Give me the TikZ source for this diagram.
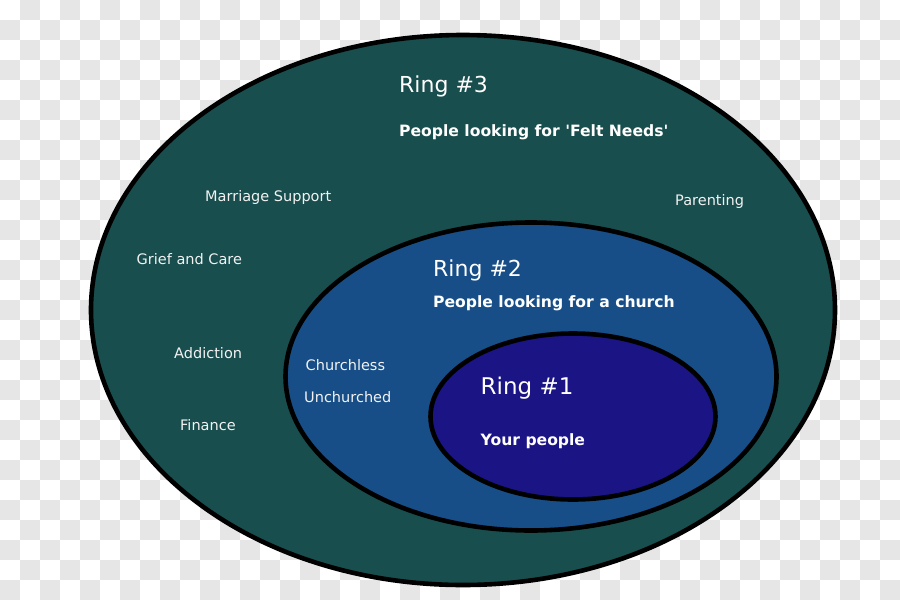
\documentclass[tikz,border=0pt]{standalone}
\usepackage{fontspec}
\setmainfont{DejaVu Sans}[Ligatures=TeXOff]
\begin{document}
\begin{tikzpicture}[x=1pt,y=-1pt,
  ring/.style={draw=black,line width=4.6pt},
  lbl/.style={inner sep=0pt,anchor=base west,text=white},
  big/.style={lbl,font=\fontsize{22}{26}\selectfont},
  sub/.style={lbl,font=\bfseries\fontsize{15.6}{19}\selectfont},
  small/.style={lbl,text=white!90!gray,font=\fontsize{14.5}{17}\selectfont}]
\definecolor{checkgray}{HTML}{E6E6E6}
\definecolor{outerfill}{HTML}{194E4E}
\definecolor{midfill}{HTML}{174E87}
\definecolor{innerfill}{HTML}{1A1485}
\useasboundingbox (0,0) rectangle (900,600);
\fill[white] (0,0) rectangle (900,600);
\foreach \yy in {0,40,...,560}{
  \foreach \xx in {20,60,...,860}{
    \fill[checkgray] (\xx,\yy) rectangle ++(20,20);
  }
}
\foreach \yy in {20,60,...,580}{
  \foreach \xx in {0,40,...,880}{
    \fill[checkgray] (\xx,\yy) rectangle ++(20,20);
  }
}
\draw[ring,fill=outerfill] (463,310) ellipse [x radius=372,y radius=275];
\draw[ring,fill=midfill] (531,376.5) ellipse [x radius=245.5,y radius=154];
\draw[ring,fill=innerfill] (573,416.5) ellipse [x radius=142.5,y radius=83];
\node[big] (r3) at (399,92) {Ring \#3};
\node[sub] (r3s) at (399,136) {People looking for 'Felt Needs'};
\node[small] (ms) at (205,201.5) {Marriage Support};
\node[small] (pa) at (675,205) {Parenting};
\node[small] (gc) at (136.5,264) {Grief and Care};
\node[small] (ad) at (174,358) {Addiction};
\node[small] (fi) at (180,430) {Finance};
\node[small] (ch) at (305.5,370) {Churchless};
\node[small] (un) at (304,402) {Unchurched};
\node[big] (r2) at (433,276) {Ring \#2};
\node[sub] (r2s) at (433,307) {People looking for a church};
\node[big,font=\fontsize{23}{27}\selectfont] (r1) at (480.5,394) {Ring \#1};
\node[sub] (r1s) at (480.5,445) {Your people};
\end{tikzpicture}
\end{document}
